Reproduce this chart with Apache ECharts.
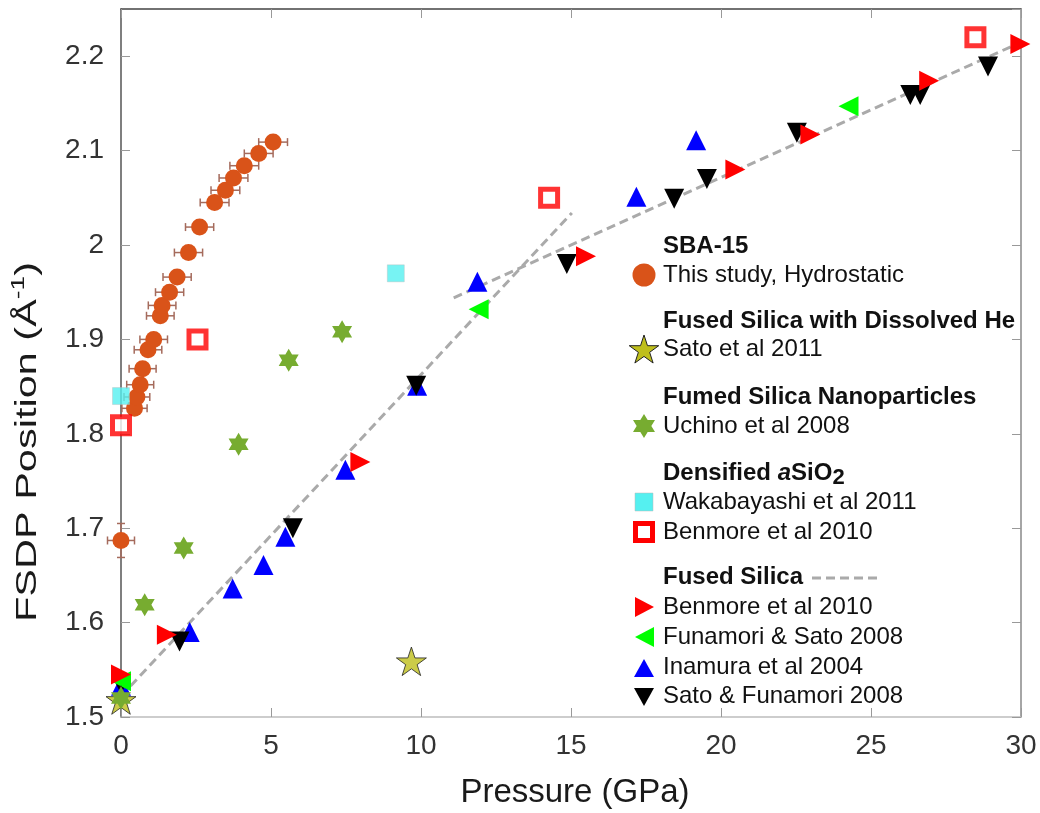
<!DOCTYPE html>
<html><head><meta charset="utf-8">
<script src="https://cdn.jsdelivr.net/npm/echarts@6/dist/echarts.min.js"></script>
<style>html,body{margin:0;padding:0;background:#fff}#c{width:1040px;height:813px}</style>
</head><body><div id="c"></div>
<script>
// ---------- data ----------
const xTicks = [0, 5, 10, 15, 20, 25, 30];
const yTicks = [1.5, 1.6, 1.7, 1.8, 1.9, 2.0, 2.1, 2.2];
const yTop = 2.25;

// SBA-15, this study (hydrostatic) with error bars
const sbaX    = [0, 0.45, 0.53, 0.64, 0.72, 0.90, 1.09, 1.31, 1.37, 1.62, 1.87, 2.25, 2.62, 3.12, 3.48, 3.75, 4.11, 4.59, 5.07];
const sbaY    = [1.687, 1.827, 1.839, 1.852, 1.869, 1.889, 1.900, 1.925, 1.936, 1.950, 1.966, 1.992, 2.019, 2.045, 2.058, 2.071, 2.084, 2.097, 2.109];
const sbaXErr = [0.45, 0.42, 0.43, 0.45, 0.45, 0.46, 0.46, 0.46, 0.46, 0.47, 0.47, 0.47, 0.47, 0.48, 0.48, 0.48, 0.48, 0.48, 0.48];
const sbaYErr = [0.018, 0, 0, 0, 0, 0, 0, 0, 0, 0, 0, 0, 0, 0, 0, 0, 0, 0, 0];

// Fused silica with dissolved He - Sato et al 2011
const satoHeX = [0, 9.68];
const satoHeY = [1.518, 1.559];

// Fumed silica nanoparticles - Uchino et al 2008
const uchinoX = [0, 0.79, 2.09, 3.92, 5.59, 7.37];
const uchinoY = [1.520, 1.619, 1.679, 1.789, 1.878, 1.908];

// Densified aSiO2
const wakaX = [0, 9.16];
const wakaY = [1.840, 1.970];
const benDensX = [0, 2.55, 14.27, 28.48];
const benDensY = [1.809, 1.900, 2.050, 2.220];

// Fused silica
const benFusedX = [0, 1.53, 7.98, 15.5, 20.48, 22.98, 26.94, 29.98];
const benFusedY = [1.545, 1.587, 1.770, 1.988, 2.080, 2.117, 2.174, 2.213];
const funamoriX = [0, 11.92, 24.25];
const funamoriY = [1.538, 1.932, 2.147];
const inamuraX = [0, 2.29, 3.72, 4.75, 5.48, 7.48, 9.87, 11.88, 17.18, 19.17];
const inamuraY = [1.533, 1.590, 1.636, 1.661, 1.691, 1.762, 1.851, 1.961, 2.051, 2.111];
const satoFunX = [0, 1.95, 5.73, 9.84, 14.86, 18.44, 19.53, 22.53, 26.31, 26.64, 28.9];
const satoFunY = [1.535, 1.580, 1.700, 1.851, 1.980, 2.049, 2.070, 2.119, 2.159, 2.159, 2.189];

// Fused silica dashed fits
const fit1X = [0, 15.03];
const fit1Y = [1.522, 2.034];
const fit2X = [11.09, 29.8];
const fit2Y = [1.944, 2.212];

// ---------- styling ----------
const FONT = '"Liberation Sans", Arial, Helvetica, sans-serif';
const STAR_PTS = [[50,0],[61.23,34.55],[97.55,34.55],[68.17,55.9],[79.39,90.45],[50,69.1],[20.61,90.45],[31.83,55.9],[2.45,34.55],[38.77,34.55]];
const HEX_PTS = [[50,0],[64.43,25],[93.3,25],[78.87,50],[93.3,75],[64.43,75],[50,100],[35.57,75],[6.7,75],[21.13,50],[6.7,25],[35.57,25]];
const toPath = pts => 'path://M' + pts.map(p => p[0] + ' ' + p[1]).join(' L') + ' Z';
const STAR = toPath(STAR_PTS), HEX = toPath(HEX_PTS);
const placePts = (pts, cx, cy, bcx, bcy, sx, sy) => pts.map(p => [cx + (p[0] - bcx) * sx, cy + (p[1] - bcy) * sy]);
const C_ORANGE = '#D95319', C_OLIVE = '#BFBF1C', C_GREENSTAR = '#77AC30', C_CYAN = '#55F0F0';

const zip = (xs, ys) => xs.map((x, i) => [x, ys[i]]);

function measure(text, font) {
  const c = document.createElement('canvas').getContext('2d');
  c.font = font;
  return c.measureText(text).width;
}

const chart = echarts.init(document.getElementById('c'), null, {renderer: 'canvas'});

function scatter(name, xs, ys, symbol, size, color, extra) {
  return Object.assign({
    type: 'scatter', name, data: zip(xs, ys), symbol, symbolSize: size, clip: false,
    itemStyle: {color, opacity: 1}, emphasis: {disabled: true}
  }, extra || {});
}

const errData = sbaX.map((x, i) => [x, sbaY[i], sbaXErr[i], sbaYErr[i]]);

// legend graphics
const LX = 644, TX = 663;
const fReg = '24px ' + FONT, fBold = 'bold 24px ' + FONT;
function tstyle(text, font, align) {
  return {text, font, fill: '#111', align: align || 'left', verticalAlign: 'middle', textAlign: align || 'left', textVerticalAlign: 'middle'};
}
function txt(text, y, bold) {
  return {type: 'text', x: TX, y: y, style: tstyle(text, bold ? fBold : fReg)};
}
const dens1 = 'Densified ', dens2 = 'a', dens3 = 'SiO';
const wD1 = measure(dens1, fBold), wD2 = measure(dens2, 'italic ' + fBold), wD3 = measure(dens3, fBold);
const legend = [
  txt('SBA-15', 246, true),
  {type: 'circle', shape: {cx: LX, cy: 275, r: 11.5}, style: {fill: C_ORANGE}},
  txt('This study, Hydrostatic', 275),
  txt('Fused Silica with Dissolved He', 321, true),
  {type: 'polygon', shape: {points: placePts(STAR_PTS, LX, 349, 50, 45.2, 0.31, 0.31)}, style: {fill: C_OLIVE, stroke: '#222', lineWidth: 1}},
  txt('Sato et al 2011', 349),
  txt('Fumed Silica Nanoparticles', 397, true),
  {type: 'polygon', shape: {points: placePts(HEX_PTS, LX, 426, 50, 50, 0.254, 0.24)}, style: {fill: C_GREENSTAR}},
  txt('Uchino et al 2008', 426),
  txt(dens1, 473, true),
  {type: 'text', x: TX + wD1, y: 473, style: tstyle(dens2, 'italic ' + fBold)},
  {type: 'text', x: TX + wD1 + wD2, y: 473, style: tstyle(dens3, fBold)},
  {type: 'text', x: TX + wD1 + wD2 + wD3, y: 478, style: tstyle('2', 'bold 22px ' + FONT)},
  {type: 'rect', shape: {x: LX - 9, y: 493, width: 18, height: 18}, style: {fill: C_CYAN, stroke: '#bbb', lineWidth: 0.5}},
  txt('Wakabayashi et al 2011', 502),
  {type: 'rect', shape: {x: LX - 8.5, y: 523.5, width: 17, height: 17}, style: {fill: '#fff', stroke: '#FF0000', lineWidth: 5}},
  txt('Benmore et al 2010', 532),
  txt('Fused Silica', 577, true),
  {type: 'line', shape: {x1: 812, y1: 578, x2: 877, y2: 578}, style: {stroke: '#AAAAAA', lineWidth: 3, lineDash: [9, 5]}},
  {type: 'polygon', shape: {points: [[LX - 9, 597], [LX + 10, 607], [LX - 9, 617]]}, style: {fill: '#FF0000'}},
  txt('Benmore et al 2010', 607),
  {type: 'polygon', shape: {points: [[LX + 10, 627], [LX - 9, 637], [LX + 10, 647]]}, style: {fill: '#00FF00'}},
  txt('Funamori & Sato 2008', 637),
  {type: 'polygon', shape: {points: [[LX, 659], [LX + 10, 677], [LX - 10, 677]]}, style: {fill: '#0000FF'}},
  txt('Inamura et al 2004', 667),
  {type: 'polygon', shape: {points: [[LX - 10, 688], [LX + 10, 688], [LX, 706]]}, style: {fill: '#000000'}},
  txt('Sato & Funamori 2008', 696)
];

// axis titles
const fTitle = '30px ' + FONT, fSup = '19px ' + FONT;
const yt1 = 'FSDP Position (Å', yt2 = '-1', yt3 = ')';
const w1 = measure(yt1, fTitle), w2 = measure(yt2, fSup), w3 = measure(yt3, fTitle);
const W = w1 + w2 + w3;
const yScale = 360 / W;
const titleEls = [
  {type: 'text', x: 575, y: 793, style: Object.assign(tstyle('Pressure (GPa)', '33px ' + FONT, 'center'), {fill: '#1a1a1a'})},
  {type: 'group', x: 28, y: 442, rotation: Math.PI / 2, scaleX: yScale, children: [
    {type: 'text', x: -W / 2, y: 0, style: Object.assign(tstyle(yt1, fTitle), {fill: '#1a1a1a'})},
    {type: 'text', x: -W / 2 + w1, y: -9, style: Object.assign(tstyle(yt2, fSup), {fill: '#1a1a1a'})},
    {type: 'text', x: -W / 2 + w1 + w2, y: 0, style: Object.assign(tstyle(yt3, fTitle), {fill: '#1a1a1a'})}
  ]}
];

const tickCol = '#999';
const option = {
  animation: false,
  backgroundColor: '#fff',
  grid: {left: 121, right: 19, top: 9, bottom: 96},
  xAxis: [
    {type: 'value', position: 'bottom', min: xTicks[0], max: xTicks[xTicks.length - 1], interval: xTicks[1] - xTicks[0],
      axisLine: {show: true, onZero: false, lineStyle: {color: '#BDBDBD', width: 1.5}},
      axisTick: {show: true, inside: true, length: 9, lineStyle: {color: tickCol}},
      axisLabel: {margin: 15, color: '#333', fontSize: 28, fontFamily: FONT},
      splitLine: {show: false}},
    {type: 'value', position: 'top', min: xTicks[0], max: xTicks[xTicks.length - 1], interval: xTicks[1] - xTicks[0],
      axisLine: {show: true, onZero: false, lineStyle: {color: '#444', width: 1.5}},
      axisTick: {show: true, inside: true, length: 9, lineStyle: {color: tickCol}},
      axisLabel: {show: false}, splitLine: {show: false}}
  ],
  yAxis: [
    {type: 'value', position: 'left', min: yTicks[0], max: yTop, interval: 0.1,
      axisLine: {show: true, onZero: false, lineStyle: {color: '#555', width: 1.5}},
      axisTick: {show: true, inside: true, length: 9, lineStyle: {color: tickCol}},
      axisLabel: {margin: 17, color: '#333', fontSize: 28, fontFamily: FONT, showMaxLabel: false},
      splitLine: {show: false}},
    {type: 'value', position: 'right', min: yTicks[0], max: yTop, interval: 0.1,
      axisLine: {show: true, onZero: false, lineStyle: {color: '#888', width: 1.5}},
      axisTick: {show: true, inside: true, length: 9, lineStyle: {color: tickCol}},
      axisLabel: {show: false}, splitLine: {show: false}}
  ],
  graphic: titleEls.concat(legend),
  series: [
    {type: 'custom', name: 'errors', data: errData, clip: false, z: 2,
      renderItem: function (params, api) {
        const x = api.value(0), y = api.value(1), ex = api.value(2), ey = api.value(3);
        const a = api.coord([x - ex, y]), b = api.coord([x + ex, y]);
        const st = {stroke: '#A56B5C', lineWidth: 1.5};
        const cap = 4;
        const ch = [
          {type: 'line', shape: {x1: a[0], y1: a[1], x2: b[0], y2: b[1]}, style: st},
          {type: 'line', shape: {x1: a[0], y1: a[1] - cap, x2: a[0], y2: a[1] + cap}, style: st},
          {type: 'line', shape: {x1: b[0], y1: b[1] - cap, x2: b[0], y2: b[1] + cap}, style: st}
        ];
        if (ey > 0) {
          const c = api.coord([x, y - ey]), d = api.coord([x, y + ey]);
          ch.push({type: 'line', shape: {x1: c[0], y1: c[1], x2: d[0], y2: d[1]}, style: st});
          ch.push({type: 'line', shape: {x1: c[0] - cap, y1: c[1], x2: c[0] + cap, y2: c[1]}, style: st});
          ch.push({type: 'line', shape: {x1: d[0] - cap, y1: d[1], x2: d[0] + cap, y2: d[1]}, style: st});
        }
        return {type: 'group', children: ch};
      }},
    scatter('This study, Hydrostatic', sbaX, sbaY, 'circle', 17, C_ORANGE, {z: 3}),
    {type: 'line', name: 'fit1', data: zip(fit1X, fit1Y), showSymbol: false, symbol: 'none', z: 3,
      lineStyle: {color: '#AAAAAA', width: 3, type: [9, 5]}},
    {type: 'line', name: 'fit2', data: zip(fit2X, fit2Y), showSymbol: false, symbol: 'none', z: 3,
      lineStyle: {color: '#AAAAAA', width: 3, type: [9, 5]}},
    scatter('Wakabayashi et al 2011', wakaX, wakaY, 'rect', 17, C_CYAN, {z: 4, itemStyle: {color: C_CYAN, borderColor: '#bbb', borderWidth: 0.5}}),
    scatter('Benmore et al 2010 (densified)', benDensX, benDensY, 'rect', 17, '#fff', {z: 4, itemStyle: {color: '#fff', borderColor: '#FF0000', borderWidth: 5}}),
    scatter('Inamura et al 2004', inamuraX, inamuraY, 'triangle', 20, '#0000FF', {z: 4}),
    scatter('Sato & Funamori 2008', satoFunX, satoFunY, 'triangle', 20, '#000000', {z: 4, symbolRotate: 180}),
    scatter('Funamori & Sato 2008', funamoriX, funamoriY, 'triangle', 20, '#00FF00', {z: 4, symbolRotate: 90}),
    scatter('Benmore et al 2010', benFusedX, benFusedY, 'triangle', 20, '#FF0000', {z: 4, symbolRotate: -90}),
    scatter('Sato et al 2011', satoHeX, satoHeY, STAR, 30, C_OLIVE, {z: 5, symbolKeepAspect: true, itemStyle: {color: C_OLIVE, borderColor: '#222', borderWidth: 1}}),
    scatter('Uchino et al 2008', uchinoX, uchinoY, HEX, [20, 23], C_GREENSTAR, {z: 5})
  ]
};
chart.setOption(option);
</script>
</body></html>
